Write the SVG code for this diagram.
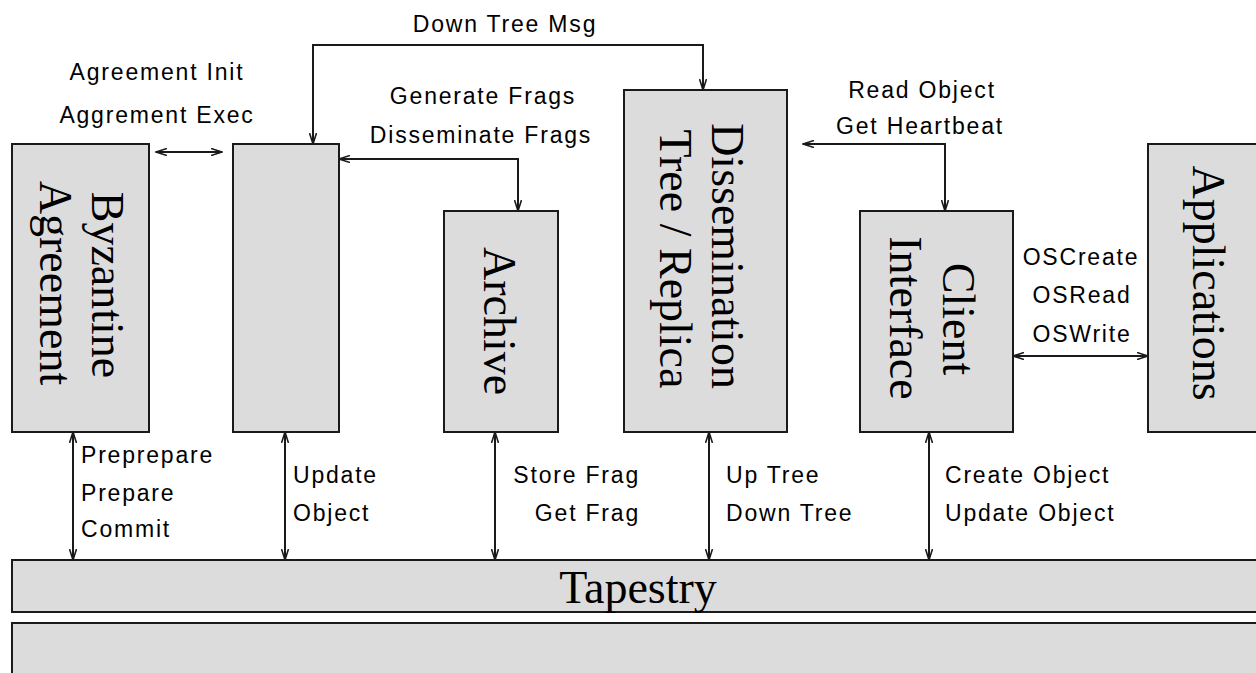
<svg xmlns="http://www.w3.org/2000/svg" width="1256" height="673" viewBox="0 0 1256 673">
<style>
.box{fill:#dcdcdc;stroke:#1a1a1a;stroke-width:2}
.node{font-family:"Liberation Serif","Times New Roman",serif;font-size:46px;fill:#000}
.lbl{font-family:"Liberation Sans",Arial,sans-serif;font-size:23px;letter-spacing:1.8px;fill:#000}
.c{text-anchor:middle}
.e{text-anchor:end}
.conn{fill:none;stroke:#1a1a1a;stroke-width:2;marker-start:url(#ah);marker-end:url(#ah)}
</style>
<defs>
<marker id="ah" viewBox="0 0 12 8" refX="11" refY="4" markerWidth="12" markerHeight="8" markerUnits="userSpaceOnUse" orient="auto-start-reverse">
<path d="M0,0.5 L11,4 L0,7.5" fill="none" stroke="#1a1a1a" stroke-width="1.6"/>
</marker>
</defs>
<rect width="1256" height="673" fill="#fff"/>
<g id="byzantine">
<rect class="box" x="12" y="144" width="137" height="288"/>
<text class="node c" transform="translate(92,285) rotate(90)">Byzantine</text>
<text class="node c" transform="translate(40,283) rotate(90)">Agreement</text>
</g>
<g id="middle">
<rect class="box" x="233" y="144" width="106" height="288"/>
</g>
<g id="archive">
<rect class="box" x="444" y="211" width="114" height="221"/>
<text class="node c" transform="translate(484,321) rotate(90)">Archive</text>
</g>
<g id="dissemination">
<rect class="box" x="624" y="90" width="163" height="342"/>
<text class="node c" transform="translate(712,256) rotate(90)">Dissemination</text>
<text class="node c" transform="translate(660,259) rotate(90)">Tree / Replica</text>
</g>
<g id="client">
<rect class="box" x="860" y="211" width="153" height="221"/>
<text class="node c" transform="translate(943,319) rotate(90)">Client</text>
<text class="node c" transform="translate(890,318) rotate(90)">Interface</text>
</g>
<g id="applications">
<rect class="box" x="1148" y="144" width="130" height="288"/>
<text class="node c" transform="translate(1193,283) rotate(90)">Applications</text>
</g>
<g id="tapestry">
<rect class="box" x="12" y="560" width="1270" height="52"/>
<text class="node c" x="638" y="603">Tapestry</text>
</g>
<g id="base">
<rect class="box" x="12" y="623" width="1270" height="70"/>
</g>
<g id="connectors">
<path class="conn" d="M313,144 V45 H703 V90"/>
<path class="conn" d="M156,152 H222"/>
<path class="conn" d="M339,159 H518 V211"/>
<path class="conn" d="M803,144 H945 V211"/>
<path class="conn" d="M1013,356 H1148"/>
<path class="conn" d="M73,432 V560"/>
<path class="conn" d="M285,432 V560"/>
<path class="conn" d="M495,432 V560"/>
<path class="conn" d="M709,432 V560"/>
<path class="conn" d="M929,432 V560"/>
</g>
<g id="labels">
<text class="lbl c" x="505" y="32">Down Tree Msg</text>
<text class="lbl c" x="157" y="80">Agreement Init</text>
<text class="lbl c" x="157" y="123">Aggrement Exec</text>
<text class="lbl c" x="483" y="104">Generate Frags</text>
<text class="lbl c" x="481" y="143">Disseminate Frags</text>
<text class="lbl c" x="922" y="98">Read Object</text>
<text class="lbl c" x="920" y="134">Get Heartbeat</text>
<text class="lbl c" x="1081" y="265">OSCreate</text>
<text class="lbl c" x="1082" y="303">OSRead</text>
<text class="lbl c" x="1082" y="342">OSWrite</text>
<text class="lbl" x="81" y="463">Preprepare</text>
<text class="lbl" x="81" y="501">Prepare</text>
<text class="lbl" x="81" y="537">Commit</text>
<text class="lbl" x="293" y="483">Update</text>
<text class="lbl" x="293" y="521">Object</text>
<text class="lbl e" x="640" y="483">Store Frag</text>
<text class="lbl e" x="640" y="521">Get Frag</text>
<text class="lbl" x="726" y="483">Up Tree</text>
<text class="lbl" x="726" y="521">Down Tree</text>
<text class="lbl" x="945" y="483">Create Object</text>
<text class="lbl" x="945" y="521">Update Object</text>
</g>
</svg>
